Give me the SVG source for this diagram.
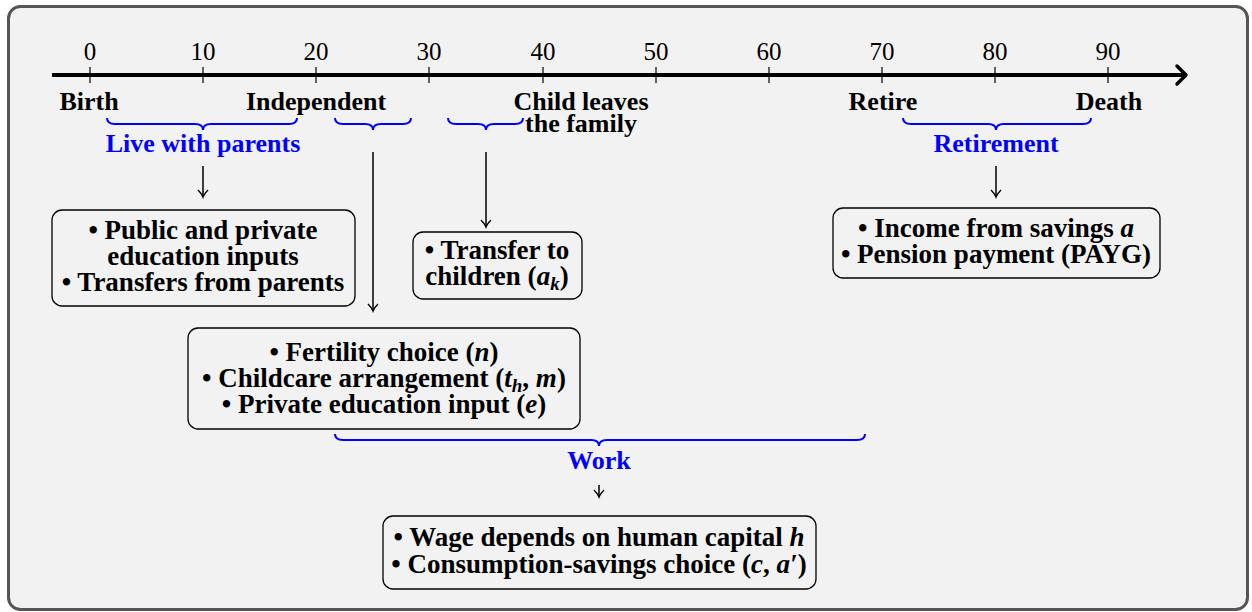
<svg xmlns="http://www.w3.org/2000/svg" width="1252" height="612" viewBox="0 0 1252 612" font-family="'Liberation Serif', 'Times New Roman', serif">
<defs>
<style>
text{font-family:'Liberation Serif','Times New Roman',serif;fill:#000}
.tick{font-size:25px;text-anchor:middle}
.lab{font-size:26px;font-weight:bold;text-anchor:middle}
.bx{font-size:27px;font-weight:bold;text-anchor:middle}
.blue{font-size:26px;font-weight:bold;text-anchor:middle;fill:#0000ff}
.box{fill:#f2f2f2;stroke:#000;stroke-width:1.3}
.brace{fill:none;stroke:#0000ff;stroke-width:2}
.conn{stroke:#000;stroke-width:1.5;fill:none}
.m{font-style:italic}
</style>
<marker id="ah" markerWidth="12" markerHeight="12" refX="10" refY="6" orient="auto" markerUnits="userSpaceOnUse" viewBox="0 0 12 12">
<path d="M3,1 Q7,5 10,6 Q7,7 3,11" fill="none" stroke="#000" stroke-width="1.4"/>
</marker>
</defs>
<rect x="8.5" y="6.5" width="1239" height="603" rx="12" fill="#f2f2f2" stroke="#555" stroke-width="3"/>
<g id="axis">
<line x1="52" y1="75" x2="1184" y2="75" stroke="#000" stroke-width="4"/>
<path d="M1177,66 L1186,75 L1177,84" fill="none" stroke="#000" stroke-width="3.5" stroke-linecap="round" stroke-linejoin="round"/>
<g stroke="#000" stroke-width="1.2">
<line x1="90" y1="67" x2="90" y2="83"/><line x1="203" y1="67" x2="203" y2="83"/><line x1="316" y1="67" x2="316" y2="83"/><line x1="429" y1="67" x2="429" y2="83"/><line x1="543" y1="67" x2="543" y2="83"/><line x1="656" y1="67" x2="656" y2="83"/><line x1="769" y1="67" x2="769" y2="83"/><line x1="882" y1="67" x2="882" y2="83"/><line x1="995" y1="67" x2="995" y2="83"/><line x1="1108" y1="67" x2="1108" y2="83"/>
</g>
<text class="tick" x="90" y="60">0</text><text class="tick" x="203" y="60">10</text><text class="tick" x="316" y="60">20</text><text class="tick" x="429" y="60">30</text><text class="tick" x="543" y="60">40</text><text class="tick" x="656" y="60">50</text><text class="tick" x="769" y="60">60</text><text class="tick" x="882" y="60">70</text><text class="tick" x="995" y="60">80</text><text class="tick" x="1108" y="60">90</text>
<text class="lab" x="89" y="110">Birth</text>
<text class="lab" x="316" y="110">Independent</text>
<text class="lab" x="581" y="110">Child leaves</text>
<text class="lab" x="581" y="132">the family</text>
<text class="lab" x="883" y="110">Retire</text>
<text class="lab" x="1109" y="110">Death</text>
</g>
<g id="braces">
<path class="brace" d="M107,118 Q107,124 115,124 L195,124 Q203,124 203,130 Q203,124 211,124 L289,124 Q297,124 297,118"/>
<path class="brace" d="M335,118 Q335,124 343,124 L365,124 Q373,124 373,130 Q373,124 381,124 L403,124 Q411,124 411,118"/>
<path class="brace" d="M448,118 Q448,124 456,124 L478,124 Q486,124 486,130 Q486,124 494,124 L515,124 Q523,124 523,118"/>
<path class="brace" d="M903,118 Q903,124 911,124 L988,124 Q996,124 996,130 Q996,124 1004,124 L1083,124 Q1091,124 1091,118"/>
<path class="brace" d="M335,434 Q335,440 343,440 L591,440 Q599,440 599,446 Q599,440 607,440 L857,440 Q865,440 865,434"/>
<text class="blue" x="203" y="152">Live with parents</text>
<text class="blue" x="996" y="152">Retirement</text>
<text class="blue" x="599" y="469">Work</text>
</g>
<g id="connectors">
<line class="conn" x1="203" y1="166" x2="203" y2="197" marker-end="url(#ah)"/>
<line class="conn" x1="373" y1="152" x2="373" y2="311" marker-end="url(#ah)"/>
<line class="conn" x1="486" y1="152" x2="486" y2="227" marker-end="url(#ah)"/>
<line class="conn" x1="996" y1="166" x2="996" y2="197" marker-end="url(#ah)"/>
<line class="conn" x1="599" y1="485" x2="599" y2="497" marker-end="url(#ah)"/>
</g>
<g id="node-education">
<rect class="box" x="52" y="210" width="303" height="96" rx="10"/>
<text class="bx" x="203" y="239">• Public and private</text>
<text class="bx" x="203" y="265">education inputs</text>
<text class="bx" x="203" y="291">• Transfers from parents</text>
</g>
<g id="node-transfer">
<rect class="box" x="413" y="232" width="169" height="67" rx="10"/>
<text class="bx" x="497" y="259">• Transfer to</text>
<text class="bx" x="497" y="285">children (<tspan class="m">a</tspan><tspan class="m" font-size="19" dy="5">k</tspan><tspan dy="-5">)</tspan></text>
</g>
<g id="node-fertility">
<rect class="box" x="188" y="328" width="392" height="101" rx="10"/>
<text class="bx" x="384" y="361">• Fertility choice (<tspan class="m">n</tspan>)</text>
<text class="bx" x="384" y="387">• Childcare arrangement (<tspan class="m">t</tspan><tspan class="m" font-size="19" dy="5">h</tspan><tspan dy="-5">, </tspan><tspan class="m">m</tspan>)</text>
<text class="bx" x="384" y="413">• Private education input (<tspan class="m">e</tspan>)</text>
</g>
<g id="node-retirement">
<rect class="box" x="833" y="208" width="327" height="70" rx="10"/>
<text class="bx" x="996" y="237">• Income from savings <tspan class="m">a</tspan></text>
<text class="bx" x="996" y="263">• Pension payment (PAYG)</text>
</g>
<g id="node-work">
<rect class="box" x="383" y="516" width="433" height="73" rx="10"/>
<text class="bx" x="599" y="546">• Wage depends on human capital <tspan class="m">h</tspan></text>
<text class="bx" x="599" y="573">• Consumption-savings choice (<tspan class="m">c</tspan>, <tspan class="m">a′</tspan>)</text>
</g>
</svg>
